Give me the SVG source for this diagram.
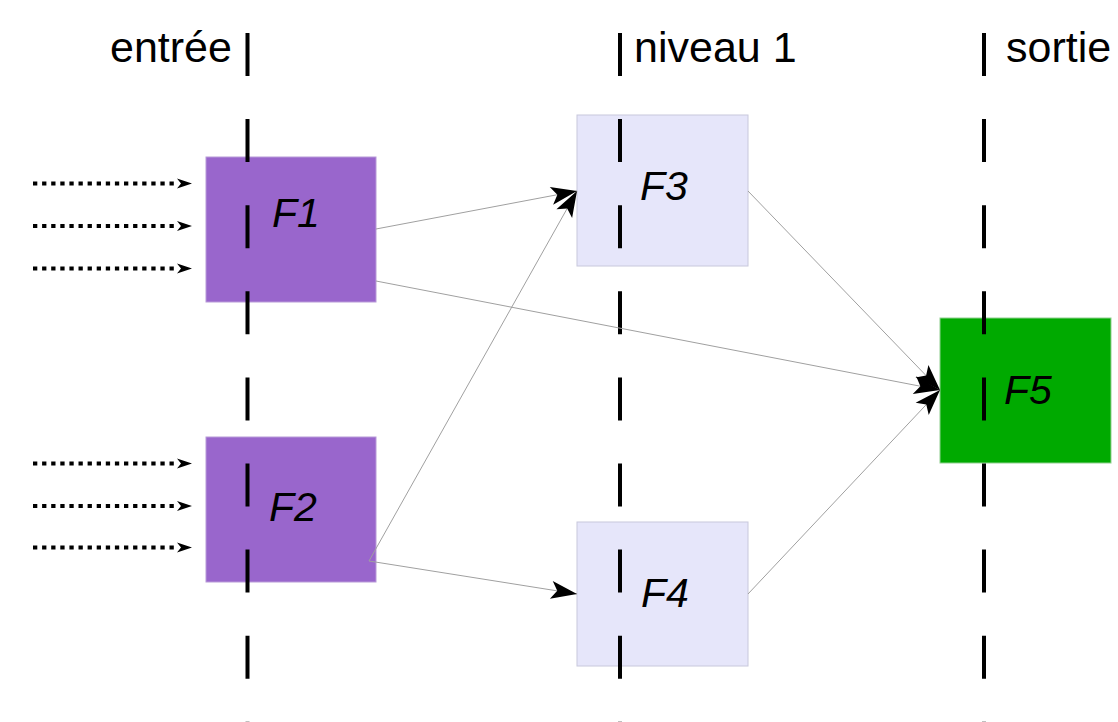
<svg xmlns="http://www.w3.org/2000/svg" width="1118" height="722" viewBox="0 0 1118 722">
<style>
.hdr{font-family:"Liberation Sans",Arial,sans-serif;font-size:43px;fill:#000}
.lbl{font-family:"Liberation Sans",Arial,sans-serif;font-size:41px;font-style:italic;fill:#000}
.purple{fill:#9966cc;stroke:#b89ad8;stroke-width:1}
.lav{fill:#e6e6fa;stroke:#c8c8dc;stroke-width:1}
.green{fill:#00aa00;stroke:#8fd08f;stroke-width:1}
.lane{stroke:#000;stroke-width:4;stroke-dasharray:43 43.1;fill:none}
.edge{stroke:#a0a0a0;stroke-width:1;fill:none;marker-end:url(#big)}
.input{stroke:#000;stroke-width:4;stroke-dasharray:4.3 4.8;fill:none;marker-end:url(#small)}
</style>
<defs>
<marker id="big" markerUnits="userSpaceOnUse" markerWidth="40" markerHeight="40" refX="0" refY="0" viewBox="-30 -20 40 40" orient="auto" overflow="visible">
<path d="M0,0 L-26,-9 L-20,0 L-26,9 Z" fill="#000"/>
</marker>
<marker id="small" markerUnits="userSpaceOnUse" markerWidth="20" markerHeight="20" refX="0" refY="0" viewBox="-5 -10 20 20" orient="auto" overflow="visible">
<path d="M0,-5 L15,0 L0,5 L4,0 Z" fill="#000"/>
</marker>
</defs>
<g id="headers">
<text class="hdr" x="110" y="62">entrée</text>
<text class="hdr" x="634" y="62">niveau 1</text>
<text class="hdr" x="1006" y="62">sortie</text>
</g>
<g id="F1"><rect class="purple" x="206" y="157" width="170" height="145"/></g>
<g id="F2"><rect class="purple" x="206" y="437" width="170" height="145"/></g>
<g id="F3"><rect class="lav" x="577" y="115" width="171" height="151"/></g>
<g id="F4"><rect class="lav" x="577" y="522" width="171" height="144"/></g>
<g id="F5"><rect class="green" x="940" y="318" width="171" height="145"/></g>
<g id="lanes">
<line class="lane" x1="247.5" y1="33" x2="247.5" y2="722"/>
<line class="lane" x1="620" y1="33" x2="620" y2="722"/>
<line class="lane" x1="984" y1="33" x2="984" y2="722"/>
</g>
<g id="labels">
<text class="lbl" x="272" y="227">F1</text>
<text class="lbl" x="269" y="521">F2</text>
<text class="lbl" x="640" y="200">F3</text>
<text class="lbl" x="641" y="607">F4</text>
<text class="lbl" x="1004" y="404">F5</text>
</g>
<g id="connectors">
<line class="input" x1="33" y1="183.5" x2="177" y2="183.5"/>
<line class="input" x1="33" y1="226" x2="177" y2="226"/>
<line class="input" x1="33" y1="268.5" x2="177" y2="268.5"/>
<line class="input" x1="33" y1="463.5" x2="177" y2="463.5"/>
<line class="input" x1="33" y1="506" x2="177" y2="506"/>
<line class="input" x1="33" y1="547.5" x2="177" y2="547.5"/>
<line class="edge" x1="376" y1="229" x2="577" y2="191"/>
<line class="edge" x1="369" y1="561" x2="577" y2="191"/>
<line class="edge" x1="369" y1="561" x2="577" y2="594"/>
<line class="edge" x1="376" y1="281" x2="940" y2="390"/>
<line class="edge" x1="748" y1="191" x2="940" y2="390"/>
<line class="edge" x1="748" y1="594" x2="940" y2="390"/>
</g>
</svg>
